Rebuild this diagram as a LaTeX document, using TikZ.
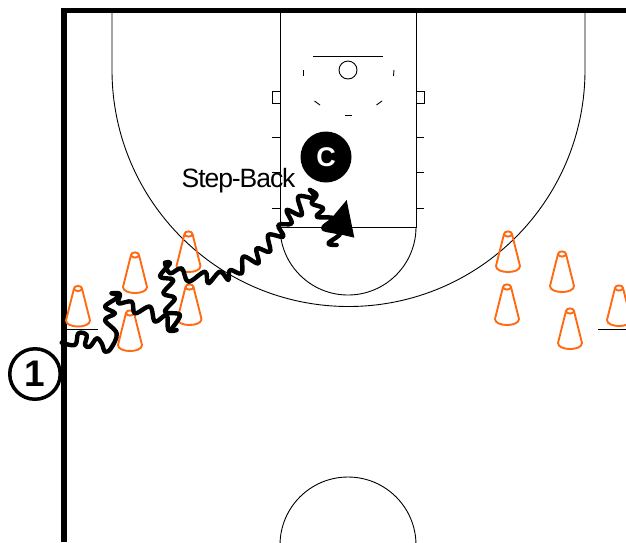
\documentclass[tikz,border=0pt]{standalone}
\usepackage{fontspec}
\setmainfont{Liberation Sans}
\definecolor{coneorange}{HTML}{FF6A13}
\tikzset{
  courtline/.style={draw=black,line width=0.9pt},
  boundary/.style={draw=black,line width=5.5pt},
  conepart/.style={draw=coneorange,line width=1.9pt,line join=round},
  dribble/.style={draw=black,line width=4.4pt,line cap=round,line join=round},
  cone/.pic={
    \draw[conepart] (-4,0) -- (-12,32) .. controls (-12,40) and (12,40) .. (12,32) -- (4,0);
    \draw[conepart] (0,0) ellipse[x radius=4pt,y radius=2.6pt];
  }
}
\begin{document}
\begin{tikzpicture}[x=1pt,y=-1pt]
\useasboundingbox (0,0) rectangle (626,542);
% court
\draw[boundary] (64,542) -- (64,10.3) -- (626,10.3);
\draw[courtline] (112,10) -- (112,70) arc[start angle=180,end angle=360,radius=236.5pt] -- (585,10);
\draw[courtline] (280,10) -- (280,227) -- (416,227) -- (416,10);
\draw[courtline] (280,227) arc[start angle=180,end angle=360,radius=68pt];
\draw[courtline] (280,545) arc[start angle=180,end angle=0,radius=68pt];
\draw[courtline] (313,56) -- (383,56);
\draw[courtline] (348,70) circle[radius=9pt];
\draw[courtline] (303,70) -- (303,76);
\draw[courtline] (394,70) -- (393.5,76);
\draw[courtline] (314.5,101) -- (320,105);
\draw[courtline] (382,101) -- (376.5,105);
\draw[courtline] (345,115.5) -- (352,115.5);
\draw[courtline] (280,91) -- (272,91) -- (272,103) -- (280,103);
\draw[courtline] (416,91) -- (424,91) -- (424,103) -- (416,103);
\foreach \ty in {137,172,208}{
  \draw[courtline] (272,\ty) -- (280,\ty);
  \draw[courtline] (416,\ty) -- (424,\ty);
}
\draw[courtline] (66,329) -- (98,329);
\draw[courtline] (598,329) -- (626,329);
% cones
\foreach \cx/\cy in {78/288.5,135/255,130/313,188.5/234,189.5/287,508/234,562/254,507/287,570/311,619/288}{
  \pic at (\cx,\cy) {cone};
}
% dribble path, traced
\begin{scope}[shift={(50,170)},x=0.3333pt,y=-0.3333pt]
\draw[dribble] plot[smooth,tension=0.6] coordinates {(35,518) (75,525) (85,490) (110,495) (105,525) (120,530) (140,505) (155,520) (165,545) (183,535) (200,490) (165,450) (195,430) (165,410) (205,380) (185,370)};
\draw[dribble] plot[smooth,tension=0.6] coordinates {(185,370) (210,372) (205,400) (245,395) (255,430) (300,410) (315,455) (350,435) (355,480) (380,480)};
\draw[dribble] plot[smooth,tension=0.6] coordinates {(360,482) (390,435) (345,425) (375,385) (340,370) (370,330) (330,320) (360,280) (345,278)};
\draw[dribble] plot[smooth,tension=0.6] coordinates {(345,280) (360,310) (395,295) (415,335) (465,305) (475,340) (510,305) (535,330) (540,300) (575,310) (580,260) (625,280) (620,235) (660,245) (655,195) (700,200) (685,165) (725,160) (710,120) (755,135) (745,80) (795,85) (780,60)};
\end{scope}
\begin{scope}[shift={(170,120)},x=0.3333pt,y=-0.3333pt]
\draw[dribble] plot[smooth,tension=0.6] coordinates {(420,210) (440,225) (425,250) (460,265) (440,290) (490,295) (460,325) (510,340) (475,370) (500,375)};
\fill[black] (530,240) -- (455,330) -- (553,353) -- cycle;
\end{scope}
% players and text
\node[circle,draw=black,line width=3.5pt,minimum size=50.5pt,inner sep=0pt,font=\bfseries\fontsize{37}{37}\selectfont] (player) at (35,374) {1};
\node[circle,fill=black,minimum size=51pt,inner sep=0pt,text=white,font=\bfseries\fontsize{27}{27}\selectfont] (coach) at (326,157) {C};
\node[anchor=base west,inner sep=0pt,font=\fontsize{26.5}{26.5}\selectfont\addfontfeature{LetterSpace=-4}] (label) at (181.5,187) {Step-Back};
\end{tikzpicture}
\end{document}
